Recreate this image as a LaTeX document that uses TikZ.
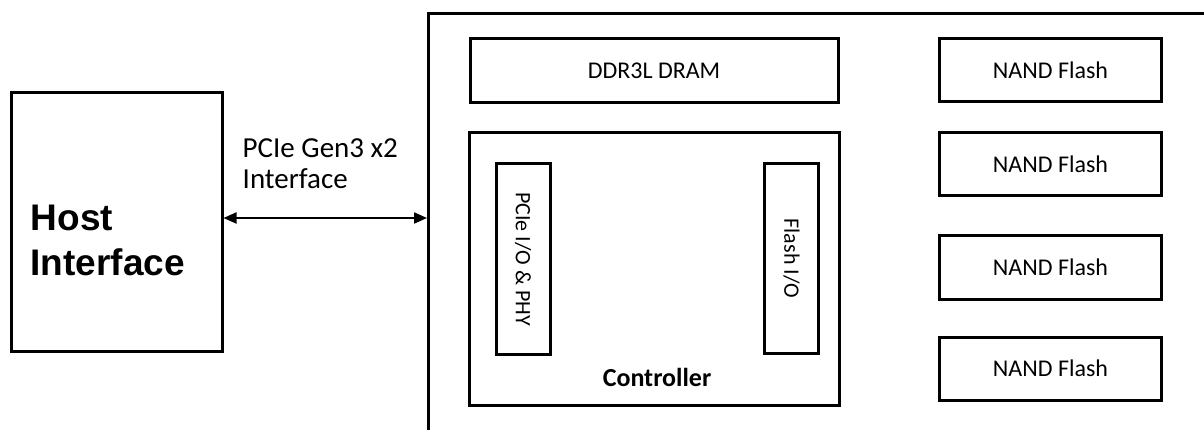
\documentclass[tikz,border=0pt]{standalone}
\usepackage{fontspec}
\setmainfont{Carlito}
\newfontfamily\hostfont{Liberation Sans}
\usetikzlibrary{arrows.meta,positioning}

\begin{document}
\begin{tikzpicture}[x=1pt, y=-1pt]
\tikzstyle{block} = [rectangle, draw=black, line width=3pt, fill=white, inner sep=0pt, text centered, font=\fontsize{24}{29}\selectfont]
\tikzstyle{port} = [block, rotate=-90, minimum width=190pt, minimum height=54pt, font=\fontsize{22}{26}\selectfont]
\tikzstyle{nand} = [block, minimum width=222pt, minimum height=63pt]
\tikzstyle{arrow} = [line width=2pt, {Triangle[length=13pt,width=11pt]}-{Triangle[length=13pt,width=11pt]}]

\clip (0,0) rectangle (1204,430);

% host side
\node (host) [block, minimum width=211pt, minimum height=258pt] at (116.5,222) {};
\node (hostlabel) [anchor=west, align=left, inner sep=0pt, font=\hostfont\bfseries\fontsize{37}{45}\selectfont] at ([xshift=21pt,yshift=-18pt]host.west) {Host\\Interface};

% drive
\node (ssd) [block, minimum width=800pt, minimum height=440pt, anchor=north west] at (427,12) {};
\node (dram) [block, minimum width=368pt, minimum height=64pt] at (654,71) {DDR3L DRAM};
\node (controller) [block, minimum width=370pt, minimum height=272pt, below=27pt of dram] {};
\node (pcieio) [port] at (523,259) {PCIe I/O \& PHY};
\node (flashio) [port] at (791.5,258.5) {Flash I/O};
\node (ctrllabel) [font=\bfseries\fontsize{26}{31}\selectfont, inner sep=0pt] at ([xshift=3pt,yshift=29pt]controller.south) {Controller};

\node (nand1) [nand] at (1050.5,70.5) {NAND Flash};
\node (nand2) [nand, below=28pt of nand1] {NAND Flash};
\node (nand3) [nand, below=37pt of nand2] {NAND Flash};
\node (nand4) [nand, below=35pt of nand3] {NAND Flash};

% link
\draw [arrow] ([yshift=4pt]host.east) -- ([yshift=4pt]host.east -| ssd.west);
\node (linklabel) [anchor=south west, align=left, inner sep=0pt, font=\fontsize{29}{31}\selectfont] at ([xshift=19pt,yshift=33pt]host.east) {PCIe Gen3 x2\\Interface};
\end{tikzpicture}
\end{document}
